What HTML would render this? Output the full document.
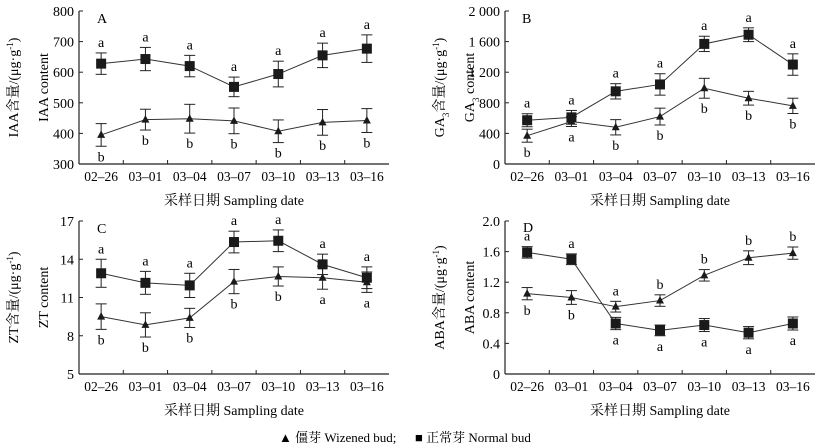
<!DOCTYPE html>
<html><head><meta charset="utf-8"><style>
body{margin:0;background:#fff;}
svg{display:block;font-family:"Liberation Serif","Noto Serif CJK SC",serif;}
</style></head><body>
<svg id="c" width="824" height="445" viewBox="0 0 824 445" font-family="Liberation Serif, Noto Serif CJK SC, serif">
<text x="279" y="442" font-size="13" font-family="Liberation Serif, Noto Serif CJK SC, serif">▲ 僵芽 Wizened bud;</text>
<text x="415" y="442" font-size="13" font-family="Liberation Serif, Noto Serif CJK SC, serif">■ 正常芽 Normal bud</text>
</svg>
<script>
const categories=["02–26","03–01","03–04","03–07","03–10","03–13","03–16"];
const iaaNormal=[628,643,620,552,594,655,677];
const iaaNormalErr=[35,38,35,32,42,40,45];
const iaaWizened=[395,445,448,441,407,436,442];
const iaaWizenedErr=[37,34,47,42,37,42,39];
const iaaNormalLet=["a","a","a","a","a","a","a"];
const iaaWizenedLet=["b","b","b","b","b","b","b"];
const gaNormal=[572,610,950,1040,1570,1690,1300];
const gaNormalErr=[85,90,100,140,100,90,140];
const gaWizened=[370,555,480,620,990,860,760];
const gaWizenedErr=[85,65,100,110,130,90,100];
const gaNormalLet=["a","a","a","a","a","a","a"];
const gaWizenedLet=["b","a","b","b","b","b","b"];
const ztNormal=[12.9,12.15,11.95,15.35,15.45,13.6,12.55];
const ztNormalErr=[1.1,0.9,0.95,0.85,0.85,0.8,0.85];
const ztWizened=[9.5,8.85,9.4,12.25,12.65,12.55,12.2];
const ztWizenedErr=[1.0,0.95,0.75,0.95,0.75,0.9,0.8];
const ztNormalLet=["a","a","a","a","a","a","a"];
const ztWizenedLet=["b","b","b","b","b","a","a"];
const abaNormal=[1.59,1.50,0.66,0.57,0.64,0.54,0.66];
const abaNormalErr=[0.075,0.07,0.08,0.07,0.085,0.08,0.085];
const abaWizened=[1.05,1.00,0.88,0.96,1.29,1.52,1.58];
const abaWizenedErr=[0.08,0.09,0.07,0.075,0.075,0.09,0.08];
const abaNormalLet=["a","a","a","a","a","a","a"];
const abaWizenedLet=["b","b","a","b","b","b","b"];
const iaaTicks=[300,400,500,600,700,800];
const gaTicks=[0,400,800,1200,1600,2000];
const gaTickLabels=["0","400","800","1 200","1 600","2 000"];
const ztTicks=[5,8,11,14,17];
const abaTicks=[0,0.4,0.8,1.2,1.6,2.0];
const abaTickLabels=["0","0.4","0.8","1.2","1.6","2.0"];

const FF='Liberation Serif, Noto Serif CJK SC, serif';
const svg=document.getElementById('c');
const NS='http://www.w3.org/2000/svg';
function mk(tag,attrs,parent,text){const e=document.createElementNS(NS,tag);for(const k in attrs)e.setAttribute(k,attrs[k]);if(tag==='text')e.setAttribute('font-family',FF);if(text!==undefined)e.textContent=text;(parent||svg).appendChild(e);return e;}

function panel(o){
  const g=mk('g',{});
  
  
  const L=o.x0,R=o.x0+310,T=o.y0,B=o.y0+153;
  const cw=(R-L)/categories.length;
  const xs=i=>L+cw*(i+0.5);
  const ys=v=>B-(v-o.min)/(o.max-o.min)*(B-T);
  mk('line',{x1:L,y1:T,x2:L,y2:B,stroke:'#222','stroke-width':1.2},g);
  mk('line',{x1:L,y1:B,x2:R,y2:B,stroke:'#222','stroke-width':1.2},g);
  o.ticks.forEach((t,i)=>{
    const y=ys(t);
    mk('line',{x1:L,y1:y,x2:L+4,y2:y,stroke:'#222'},g);
    const tl=mk('text',{x:L-5,y:y+5,'font-size':14,'text-anchor':'end'},g,o.labels?o.labels[i]:String(t));
    
    
  });
  categories.forEach((c,i)=>{
    if(i>0)mk('line',{x1:L+cw*i,y1:B,x2:L+cw*i,y2:B-4,stroke:'#222'},g);
    const tl=mk('text',{x:xs(i),y:B+17,'font-size':13.5,'text-anchor':'middle'},g,c);
    
    
  });
  const xt=mk('text',{x:(L+R)/2,y:B+41,'font-size':14,'text-anchor':'middle'},g,'采样日期  Sampling date');
  
  
  const cy=(T+B)/2;
  const y1=mk('text',{x:o.x0-61,y:cy,'font-size':14,'text-anchor':'middle',transform:`rotate(-90 ${o.x0-61} ${cy})`},g);
  y1.innerHTML=o.t1;
  
  
  const y2=mk('text',{x:o.x0-31,y:cy,'font-size':14,'text-anchor':'middle',transform:`rotate(-90 ${o.x0-31} ${cy})`},g);
  y2.innerHTML=o.t2;
  
  
  const pl=mk('text',{x:o.lx,y:o.ly,'font-size':14},g,o.id);
  
  
  [[o.w,o.we,o.wl,'tri'],[o.n,o.ne,o.nl,'sq']].forEach(([vals,errs,lets,shape])=>{
    const pts=vals.map((v,i)=>xs(i)+','+ys(v)).join(' ');
    const line=mk('polyline',{points:pts,fill:'none',stroke:'#333','stroke-width':1},g);
    
    
    vals.forEach((v,i)=>{
      const x=xs(i),yt=ys(v+errs[i]),yb=ys(v-errs[i]);
      mk('line',{x1:x,y1:yt,x2:x,y2:yb,stroke:'#222','stroke-width':1},g);
      mk('line',{x1:x-5.5,y1:yt,x2:x+5.5,y2:yt,stroke:'#222','stroke-width':1},g);
      mk('line',{x1:x-5.5,y1:yb,x2:x+5.5,y2:yb,stroke:'#222','stroke-width':1},g);
      const y=ys(v);
      let m;
      if(shape==='sq')m=mk('rect',{x:x-5,y:y-5,width:10,height:10,fill:'#1a1a1a'},g);
      else m=mk('polygon',{points:`${x},${y-4.5} ${x-4},${y+3} ${x+4},${y+3}`,fill:'#1a1a1a'},g);
      
      
      const above=(shape==='sq')?o.nAbove(i):o.wAbove(i);
      const ly=above?yt-6:yb+15;
      const lt=mk('text',{x:x,y:ly,'font-size':14,'text-anchor':'middle'},g,lets[i]);
      
      
    });
  });
}
panel({id:'A',x0:79,y0:11,min:300,max:800,ticks:iaaTicks,lx:97,ly:23,
  t1:'IAA含量/(μg·g<tspan baseline-shift="super" font-size="9">-1</tspan>)',t2:'IAA content',
  n:iaaNormal,ne:iaaNormalErr,nl:iaaNormalLet,w:iaaWizened,we:iaaWizenedErr,wl:iaaWizenedLet,
  nAbove:i=>true,wAbove:i=>false});
panel({id:'B',x0:505,y0:11,min:0,max:2000,ticks:gaTicks,labels:gaTickLabels,lx:522,ly:23,
  t1:'GA<tspan baseline-shift="sub" font-size="9">3</tspan>含量/(μg·g<tspan baseline-shift="super" font-size="9">-1</tspan>)',t2:'GA<tspan baseline-shift="sub" font-size="9">3</tspan> content',
  n:gaNormal,ne:gaNormalErr,nl:gaNormalLet,w:gaWizened,we:gaWizenedErr,wl:gaWizenedLet,
  nAbove:i=>true,wAbove:i=>false});
panel({id:'C',x0:79,y0:221,min:5,max:17,ticks:ztTicks,lx:97,ly:233,
  t1:'ZT含量/(μg·g<tspan baseline-shift="super" font-size="9">-1</tspan>)',t2:'ZT content',
  n:ztNormal,ne:ztNormalErr,nl:ztNormalLet,w:ztWizened,we:ztWizenedErr,wl:ztWizenedLet,
  nAbove:i=>true,wAbove:i=>false});
panel({id:'D',x0:505,y0:221,min:0,max:2,ticks:abaTicks,labels:abaTickLabels,lx:523,ly:232,
  t1:'ABA含量/(μg·g<tspan baseline-shift="super" font-size="9">-1</tspan>)',t2:'ABA content',
  n:abaNormal,ne:abaNormalErr,nl:abaNormalLet,w:abaWizened,we:abaWizenedErr,wl:abaWizenedLet,
  nAbove:i=>i<2,wAbove:i=>i>=2});
</script>
</body></html>
